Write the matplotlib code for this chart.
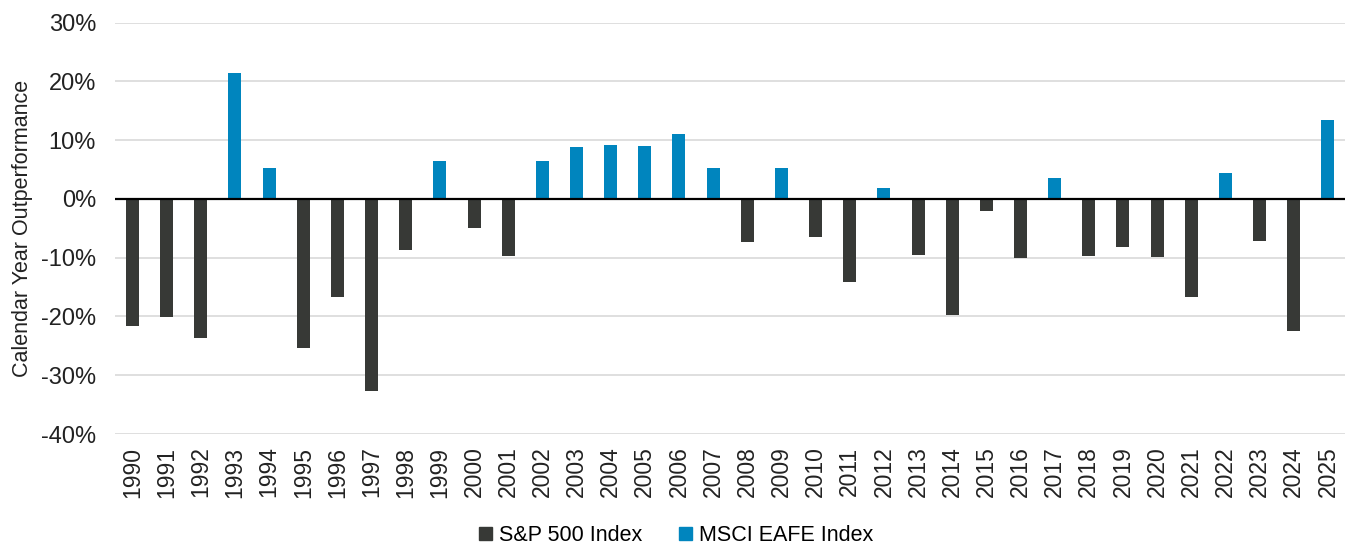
import matplotlib
matplotlib.use("Agg")
import matplotlib.pyplot as plt
from matplotlib.patches import Patch
from matplotlib.ticker import FuncFormatter

years = list(range(1990, 2026))
outperf = [-21.6, -20.1, -23.6, 21.4, 5.2, -25.4, -16.6, -32.6, -8.6, 6.4,
           -5.0, -9.7, 6.5, 8.8, 9.1, 9.0, 11.1, 5.2, -7.4, 5.2,
           -6.4, -14.1, 1.8, -9.5, -19.8, -2.0, -10.1, 3.6, -9.7, -8.2,
           -9.9, -16.6, 4.5, -7.1, -22.4, 13.5]
series_names = ["S&P 500 Index", "MSCI EAFE Index"]
yticks = [-40, -30, -20, -10, 0, 10, 20, 30]

DARK, BLUE = "#373936", "#0085BE"

plt.rcParams["font.family"] = ["Liberation Sans", "DejaVu Sans"]

fig = plt.figure(figsize=(13.47, 5.48), dpi=100)
ax = fig.add_axes([0.0857, 0.208, 0.9128, 0.7506])

x = list(range(len(years)))
cols = [BLUE if v > 0 else DARK for v in outperf]
ax.bar(x, outperf, width=0.38, color=cols, zorder=3)

ax.set_xlim(-0.5, len(years) - 0.5)
ax.set_ylim(-40, 30)
ax.set_yticks(yticks)
ax.yaxis.set_major_formatter(FuncFormatter(lambda v, p: f"{v:.0f}%"))
ax.set_xticks(x)
ax.set_xticklabels([str(y) for y in years], rotation=90, va="top")
ax.tick_params(axis="both", length=0, colors="#222222")
ax.tick_params(axis="y", labelsize=17, pad=14)
ax.tick_params(axis="x", labelsize=16.5, pad=9)
ax.grid(axis="y", color="#d9d9d9", linewidth=1.2, zorder=0)
ax.axhline(0, color="black", linewidth=1.6, zorder=4)
for s in ax.spines.values():
    s.set_visible(False)
ax.set_ylabel("Calendar Year Outperformance", fontsize=15.5, labelpad=6, color="#222222")

handles = [Patch(color=DARK), Patch(color=BLUE)]
fig.legend(handles, series_names, loc="lower center", bbox_to_anchor=(0.502, -0.032),
           ncol=2, frameon=False, fontsize=15.5, handlelength=0.6, handleheight=0.6,
           handletextpad=0.35, columnspacing=1.7)

fig.savefig("out.png", dpi=100)
